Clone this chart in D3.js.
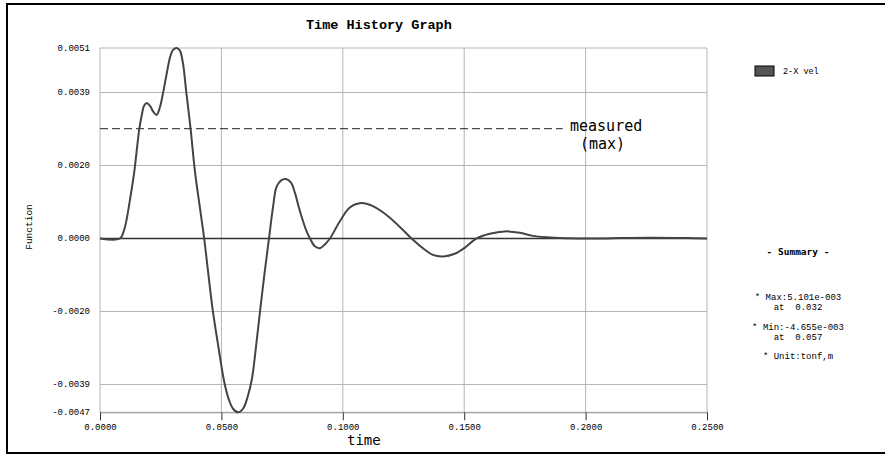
<!DOCTYPE html>
<html>
<head>
<meta charset="utf-8">
<script src="https://cdn.jsdelivr.net/npm/d3@7"></script>
<style>
  body { margin: 0; background: #fff; }
  svg { display: block; }
  .mono { font-family: "Liberation Mono", "DejaVu Sans Mono", monospace; }
  .smono { font-family: "DejaVu Sans Mono", monospace; }
</style>
</head>
<body>
<div id="chart"></div>
<script>
// time history (s, function value)
const times = [0, 0.0082, 0.0099, 0.0110, 0.0126, 0.0141, 0.0162, 0.0172, 0.0181, 0.0192,
  0.0206, 0.0220, 0.0233, 0.0247, 0.0261, 0.0276, 0.0288, 0.0301, 0.0316, 0.0329,
  0.0342, 0.0354, 0.0373, 0.0391, 0.0412, 0.0429, 0.0464, 0.0488, 0.0512, 0.0531,
  0.0548, 0.0569, 0.0589, 0.0609, 0.0626, 0.0642, 0.0659, 0.0677, 0.0696, 0.0713,
  0.0727, 0.0745, 0.0766, 0.0786, 0.0803, 0.0817, 0.0830, 0.0851, 0.0865, 0.0885,
  0.0906, 0.0926, 0.0947, 0.0988, 0.1029, 0.1077, 0.1120, 0.1180, 0.1235, 0.1283,
  0.1338, 0.1371, 0.1413, 0.1461, 0.1502, 0.1551, 0.1605, 0.1667, 0.1729, 0.1783,
  0.1873, 0.1976, 0.2080, 0.2140, 0.2264, 0.2420, 0.2500];
const values = [0, 0, 0.00022, 0.00052, 0.00114, 0.00178, 0.00294, 0.00330, 0.00355, 0.00363,
  0.00355, 0.00339, 0.00331, 0.00352, 0.00394, 0.00446, 0.00484, 0.00505, 0.005101, 0.00503,
  0.00468, 0.00400, 0.00294, 0.00180, 0.00080, 0, -0.00190, -0.00292, -0.00385, -0.00432,
  -0.00456, -0.004655, -0.00456, -0.00422, -0.00375, -0.00293, -0.00196, -0.00097, 0, 0.00086,
  0.00138, 0.00155, 0.00159, 0.00150, 0.00122, 0.00088, 0.00059, 0.00019, 0, -0.00021,
  -0.00026, -0.00016, 0, 0.00046, 0.00083, 0.00095, 0.00088, 0.00063, 0.00031, 0,
  -0.0003, -0.00044, -0.00048, -0.00041, -0.00025, 0, 0.000126, 0.00019, 0.000153, 0.00007,
  0.00002, 0, 0, 0.00001, 0.00002, 0.00001, 0];

const xTicks = [0, 0.05, 0.1, 0.15, 0.2, 0.25];
const yTicks = [0.005101, 0.00391, 0.001955, 0, -0.001955, -0.00391, -0.004655];
const measuredMax = 0.00294;
const seriesName = "2-X vel";
const summaryLines = ["* Max:5.101e-003", "at  0.032", "* Min:-4.655e-003", "at  0.057", "* Unit:tonf,m"];

const W = 885, H = 454;
const svg = d3.select("#chart").append("svg").attr("width", W).attr("height", H);

const x = d3.scaleLinear().domain([0, 0.25]).range([100, 707]);
const y = d3.scaleLinear().domain([-0.004655, 0.005101]).range([412.3, 48]);

// outer frame (top, left, bottom)
svg.append("path")
  .attr("d", `M${W},4H7V453H${W}`)
  .attr("fill", "none").attr("stroke", "#000").attr("stroke-width", 2);

svg.append("text").attr("class", "mono")
  .attr("x", 306).attr("y", 28.5)
  .attr("font-size", 13.5).attr("font-weight", "bold")
  .text("Time History Graph");

// grid
const grid = svg.append("g").attr("stroke", "#b4b4b4").attr("stroke-width", 1);
grid.selectAll(".gx").data(xTicks).enter().append("line")
  .attr("x1", d => x(d)).attr("x2", d => x(d))
  .attr("y1", y.range()[1]).attr("y2", y.range()[0]);
grid.selectAll(".gy").data(yTicks).enter().append("line")
  .attr("x1", 100).attr("x2", 707)
  .attr("y1", d => y(d)).attr("y2", d => y(d));

// x axis
const xAxisG = svg.append("g").attr("transform", `translate(0,${y.range()[0]})`)
  .call(d3.axisBottom(x).tickValues(xTicks).tickSize(8).tickFormat(d => d.toFixed(4)));
xAxisG.select(".domain").attr("stroke", "#999");
xAxisG.selectAll(".tick line").attr("stroke", "#333");
xAxisG.selectAll(".tick text").attr("class", "mono").attr("font-size", 9)
  .attr("fill", "#000").attr("y", 11);

// y labels
svg.append("g").selectAll("text").data(yTicks).enter().append("text")
  .attr("class", "mono").attr("font-size", 9)
  .attr("x", 90).attr("y", d => y(d) + 3)
  .attr("text-anchor", "end")
  .text(d => d.toFixed(4));

// zero line
svg.append("line")
  .attr("x1", 100).attr("x2", 707).attr("y1", y(0)).attr("y2", y(0))
  .attr("stroke", "#333").attr("stroke-width", 1.6);

// measured max dashed line
svg.append("line")
  .attr("x1", x(0)).attr("x2", x(0.1906))
  .attr("y1", y(measuredMax)).attr("y2", y(measuredMax))
  .attr("stroke", "#222").attr("stroke-width", 1).attr("stroke-dasharray", "8,4");
svg.append("text").attr("class", "smono").attr("font-size", 15)
  .attr("x", 570).attr("y", y(measuredMax) + 2.5).text("measured");
svg.append("text").attr("class", "smono").attr("font-size", 15)
  .attr("x", 580).attr("y", y(measuredMax) + 20.5).text("(max)");

// series
const pts = times.map((t, i) => [t, values[i]]);
svg.append("path").datum(pts)
  .attr("fill", "none").attr("stroke", "#444").attr("stroke-width", 2)
  .attr("d", d3.line().x(d => x(d[0])).y(d => y(d[1])).curve(d3.curveCatmullRom.alpha(0.5)));

// axis titles
svg.append("text").attr("class", "smono").attr("font-size", 14)
  .attr("x", 347).attr("y", 445).text("time");
svg.append("text").attr("class", "mono").attr("font-size", 9.5)
  .attr("transform", "translate(32,227) rotate(-90)")
  .attr("text-anchor", "middle").text("Function");

// legend
svg.append("rect").attr("x", 755).attr("y", 66).attr("width", 19).attr("height", 10)
  .attr("fill", "#555").attr("stroke", "#000").attr("stroke-width", 1);
svg.append("text").attr("class", "mono").attr("font-size", 8.5)
  .attr("x", 783).attr("y", 74).text(seriesName);

// summary
svg.append("text").attr("class", "smono").attr("font-size", 9.5).attr("font-weight", "bold")
  .attr("x", 798).attr("y", 254.5).attr("text-anchor", "middle").text("- Summary -");
const summaryY = [297.3, 307.3, 326.7, 336.7, 356];
svg.append("g").selectAll("text").data(summaryLines).enter().append("text")
  .attr("class", "mono").attr("font-size", 9)
  .attr("x", 798).attr("y", (d, i) => summaryY[i] + 3)
  .attr("text-anchor", "middle")
  .style("white-space", "pre")
  .text(d => d);
</script>
</body>
</html>
